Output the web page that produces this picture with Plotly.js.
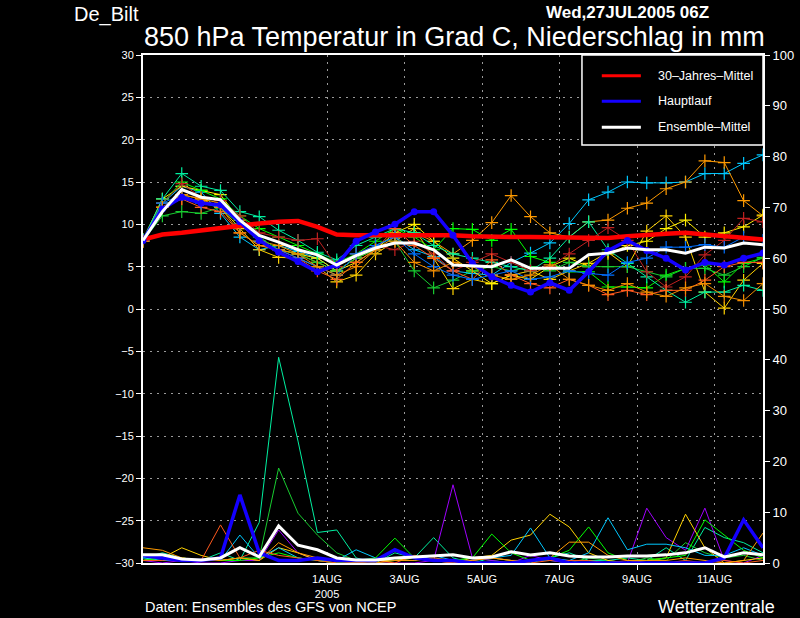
<!DOCTYPE html>
<html>
<head>
<meta charset="utf-8">
<script src="https://cdn.plot.ly/plotly-3.0.1.min.js"></script>
<style>
html, body { margin:0; padding:0; background:#000; }
#chart { width:800px; height:618px; }
</style>
</head>
<body>
<div id="chart"></div>
<script>
// 12-hourly steps from 27JUL2005 06Z
var startTime = Date.UTC(2005, 6, 27, 6);
var nSteps = 33;
var times = [];
for (var i = 0; i < nSteps; i++) {
    times.push(new Date(startTime + i * 43200000).toISOString().slice(0, 19).replace('T', ' '));
}

var tickDates = ['2005-08-01', '2005-08-03', '2005-08-05', '2005-08-07', '2005-08-09', '2005-08-11'];
var tickLabels = ['1AUG<br>2005', '3AUG', '5AUG', '7AUG', '9AUG', '11AUG'];

// 850 hPa temperature (deg C)
var tClim  = [8.2,8.8,9.0,9.3,9.6,9.9,10.1,10.3,10.4,9.7,8.8,8.7,8.7,8.7,8.8,8.8,8.7,8.6,8.5,8.5,8.5,8.5,8.5,8.4,8.4,8.6,8.8,8.9,9.0,8.8,8.6,8.4,8.2];
var tMain  = [8.1,11.8,13.2,12.5,12.3,10.3,8.1,6.7,5.6,4.4,5.2,8.0,9.1,10.0,11.5,11.5,8.7,5.4,3.8,2.8,2.0,3.1,2.2,4.4,6.9,8.1,6.9,6.0,4.6,5.5,5.2,6.0,6.6];
var tMean  = [8.1,11.5,14.1,13.2,12.9,10.5,8.7,7.9,7.0,6.4,5.2,6.3,7.2,7.8,7.8,7.0,5.2,5.1,5.0,5.8,4.8,4.8,4.8,6.4,6.6,7.2,7.0,7.0,6.6,7.3,7.2,7.8,7.6];

var tCyan   = [8.0,12.5,14.5,13.8,11.3,8.5,7.0,7.5,6.8,6.0,4.5,6.0,7.5,8.5,7.0,6.2,4.5,4.2,4.0,5.5,6.6,7.8,10.1,12.9,13.8,15.0,14.9,14.9,15.0,16.0,16.0,17.2,18.2];
var tOrange = [8.1,12.0,13.5,13.0,12.5,10.0,8.0,7.5,6.5,5.5,4.5,6.0,7.0,8.5,9.0,8.0,6.5,8.1,10.2,13.4,10.9,9.0,8.5,10.3,10.5,11.9,12.5,14.2,15.0,17.5,17.3,12.8,11.0];
var tYellow = [8.0,12.0,13.0,12.8,12.0,9.5,7.0,6.1,6.0,5.0,3.2,4.0,6.5,8.0,9.5,6.0,2.4,3.5,3.0,4.0,4.5,3.5,4.5,5.4,6.7,5.0,9.2,11.0,8.5,2.0,0.1,3.4,5.4];
var tGold   = [8.2,13.0,14.5,14.0,13.5,10.5,8.0,7.0,6.5,6.0,4.5,5.5,7.0,9.0,10.0,8.0,6.0,4.5,3.0,4.0,3.5,5.0,6.0,5.0,6.5,7.5,8.0,9.5,10.5,8.5,9.0,9.7,11.1];
var tGreen  = [8.0,12.5,15.0,14.0,13.0,11.0,9.5,8.5,7.5,6.5,5.5,6.5,8.0,9.5,8.5,7.0,9.5,9.4,8.1,9.4,6.2,5.5,4.4,4.4,2.6,2.6,2.5,4.0,4.8,5.2,3.2,5.4,6.0];
var tDkGreen= [8.0,11.0,11.5,11.3,12.0,10.0,8.5,7.0,6.5,5.5,4.5,6.0,7.0,8.0,4.5,2.5,3.4,4.5,5.0,4.5,5.0,4.5,5.5,5.0,5.0,5.0,4.4,3.8,4.8,4.8,4.0,5.0,6.1];
var tAqua   = [8.2,13.0,16.0,14.5,14.0,11.5,10.9,9.3,8.1,6.7,5.8,7.5,8.5,9.5,9.0,7.5,6.5,6.0,5.5,5.0,4.5,6.0,8.5,10.3,7.0,5.4,3.8,2.2,0.8,2.0,2.0,2.8,2.2];
var tDkRed  = [8.0,12.5,14.8,13.2,12.8,11.0,9.0,8.5,8.1,8.3,5.0,6.5,7.5,7.0,8.0,6.5,4.5,5.5,6.5,5.5,4.5,5.0,6.5,8.1,9.6,8.1,4.4,2.6,3.8,6.4,8.1,10.7,10.3];
var tOrRed  = [8.0,12.0,13.0,12.0,11.5,9.0,7.5,7.0,6.0,4.5,3.5,5.5,7.0,9.5,7.5,6.0,4.5,3.5,5.8,4.0,3.0,2.5,3.5,2.8,1.7,2.2,1.7,2.2,2.2,3.4,5.0,5.5,5.5];
var tBlue   = [8.1,12.5,13.5,12.5,12.0,10.0,8.0,7.0,6.0,5.0,4.0,6.5,7.5,8.5,6.5,5.0,4.0,3.5,4.0,4.5,3.5,3.8,4.5,4.2,4.0,5.5,6.0,7.3,7.3,7.6,7.3,8.5,8.1];
var tOrange2= [8.0,12.0,13.5,13.0,12.0,9.0,7.5,7.0,6.5,5.0,4.0,5.0,7.0,8.0,5.5,4.5,5.5,5.0,4.0,3.5,4.0,5.2,3.5,2.8,2.2,3.0,2.0,1.5,2.5,3.0,1.5,1.0,3.0];

// precipitation (mm, right axis)
var pMain   = [1.5,1.0,0.5,0.5,1.0,13.4,2.0,0.5,0.5,1.0,0.5,0.5,0.5,2.6,1.0,0.5,0.5,0,0,0,0.5,1.0,0,0,0,0,0,0,0,0,1.0,8.5,3.0];
var pMean   = [1.6,1.6,0.8,0.6,1.0,3.0,1.2,7.3,3.5,2.6,1.0,0.6,0.6,1.0,1.2,1.4,1.6,1.0,1.2,2.2,1.6,2.0,1.4,1.2,1.2,1.4,1.4,1.6,2.0,3.0,1.2,2.0,1.6];
var pAqua   = [1.0,2.0,1.0,0.5,2.0,0.5,8.0,40.5,24.0,6.0,6.5,1.0,0,2.0,1.0,5.0,1.0,0,1.0,0.5,0,1.0,2.0,0.5,0.5,1.0,0.5,3.0,0.5,7.0,5.0,4.0,2.0];
var pDkGreen= [0.5,1.5,1.0,0.5,0.5,1.0,1.0,18.7,9.8,5.5,2.0,0.5,0,0.5,1.0,0.5,0.5,1.0,0.5,0,0.5,0.5,0,1.0,0.5,0,1.0,0.5,4.0,2.0,1.0,1.5,0.5];
var pPurple = [0.5,0,0.5,0,0,0.5,0.5,6.5,2.0,0.5,0,0,0,0,0,0.5,15.4,1.0,0.5,0,1.5,0.5,0,0,0,0,10.8,5.0,2.5,10.8,0.5,0,1.5];
var pYellow = [0.5,1.0,3.0,1.5,0.5,1.0,0.5,3.0,2.0,0.5,0,0,0.5,0.5,1.0,0.5,0,1.0,1.5,4.5,5.5,9.6,7.1,2.0,0.5,0,0.5,1.0,9.6,3.0,0,0.5,1.0];
var pCyan   = [1.0,0.5,0.5,0.5,0.5,5.5,1.0,3.0,1.0,0.5,0.5,2.6,1.0,0.5,0.5,1.5,0.5,0.5,1.0,1.5,6.9,1.0,0.5,2.0,8.9,2.6,3.7,3.7,3.0,1.5,1.5,3.0,1.5];
var pGreen  = [0.5,1.0,1.0,0.5,0.5,0.5,1.0,2.0,1.0,0.5,0,0.5,1.0,4.9,1.0,0.5,0.5,1.0,5.7,2.0,0.5,1.0,2.5,7.1,2.0,0.5,0.5,1.0,1.5,8.5,5.5,2.5,1.0];
var pOrRed  = [0.5,0.5,1.0,0.5,7.5,1.0,2.5,1.5,1.0,0.5,0,0,0.5,0,1.5,0.5,0,0.5,1.0,0.5,0,0.5,0.5,0.5,0,0.5,0,0,0.5,0,0.5,0,0.5];
var pOrange = [3.0,2.5,1.0,0.5,0.5,1.0,0.5,4.0,2.0,1.0,0.5,0,0,0.5,0.5,1.0,0.5,0.5,1.0,0.5,0.5,1.0,4.1,4.1,1.5,0.5,0.5,0.5,1.0,0.5,0,0.5,5.9];

var members = [
    {t: tCyan,    c: '#00c8ff'},
    {t: tOrange,  c: '#ff9a00'},
    {t: tYellow,  c: '#ffd200'},
    {t: tGold,    c: '#ffee00'},
    {t: tGreen,   c: '#00ff00'},
    {t: tDkGreen, c: '#18cc30'},
    {t: tAqua,    c: '#00f0a0'},
    {t: tDkRed,   c: '#c02020'},
    {t: tOrRed,   c: '#ff5a1e'},
    {t: tBlue,    c: '#0070ff'},
    {t: tOrange2, c: '#f08c00'}
];
var precMembers = [
    {p: pAqua,    c: '#00f0a0'},
    {p: pDkGreen, c: '#18cc30'},
    {p: pPurple,  c: '#a000ff'},
    {p: pYellow,  c: '#ffd200'},
    {p: pCyan,    c: '#00c8ff'},
    {p: pGreen,   c: '#00ff00'},
    {p: pOrRed,   c: '#ff5a1e'},
    {p: pOrange,  c: '#ff9a00'}
];

var traces = [];
members.forEach(function(m){
    traces.push({
        x: times, y: m.t, type: 'scatter', mode: 'lines+markers',
        line: {color: m.c, width: 1},
        marker: {symbol: 'cross-thin', size: 9, line: {color: m.c, width: 1.2}},
        showlegend: false, hoverinfo: 'skip'
    });
});
precMembers.forEach(function(m){
    traces.push({
        x: times, y: m.p, type: 'scatter', mode: 'lines', yaxis: 'y2',
        line: {color: m.c, width: 1},
        showlegend: false, hoverinfo: 'skip'
    });
});
traces.push({x: times, y: pMain, type: 'scatter', mode: 'lines', yaxis: 'y2',
    line: {color: '#1400ff', width: 3.5}, showlegend: false});
traces.push({x: times, y: pMean, type: 'scatter', mode: 'lines', yaxis: 'y2',
    line: {color: '#ffffff', width: 3}, showlegend: false});
traces.push({x: times, y: tClim, type: 'scatter', mode: 'lines',
    line: {color: '#ff0000', width: 4.5}, showlegend: false});
traces.push({x: times, y: tMain, type: 'scatter', mode: 'lines+markers',
    line: {color: '#1400ff', width: 3.5},
    marker: {symbol: 'circle', size: 7, color: '#1400ff'}, showlegend: false});
traces.push({x: times, y: tMean, type: 'scatter', mode: 'lines',
    line: {color: '#ffffff', width: 3}, showlegend: false});

var fontFam = 'Liberation Sans, DejaVu Sans, sans-serif';

var layout = {
    width: 800, height: 618,
    paper_bgcolor: '#000', plot_bgcolor: '#000',
    margin: {l: 143, r: 37, t: 55, b: 55},
    font: {family: fontFam, color: '#fff', size: 11},
    title: {
        text: '850 hPa Temperatur in Grad C, Niederschlag in mm',
        font: {family: fontFam, size: 27, color: '#fff'},
        x: 0.18, xanchor: 'left', y: 0.941, yanchor: 'middle'
    },
    showlegend: false,
    xaxis: {
        type: 'date',
        range: [times[0], times[nSteps - 1]],
        tickvals: tickDates, ticktext: tickLabels,
        ticks: 'outside', ticklen: 5, tickcolor: '#fff',
        showline: true, linecolor: '#fff', linewidth: 2, mirror: true,
        showgrid: true, gridcolor: '#9a9a9a', griddash: '2px,5px', gridwidth: 1,
        tickfont: {size: 11, color: '#fff'},
        zeroline: false
    },
    yaxis: {
        range: [-30, 30], dtick: 5,
        ticks: 'outside', ticklen: 5, tickcolor: '#fff',
        showline: true, linecolor: '#fff', linewidth: 2,
        showgrid: true, gridcolor: '#9a9a9a', griddash: '2px,5px', gridwidth: 1,
        zeroline: false,
        tickfont: {size: 11, color: '#fff'}
    },
    yaxis2: {
        range: [0, 100], dtick: 10, overlaying: 'y', side: 'right',
        ticks: 'outside', ticklen: 5, tickcolor: '#fff',
        showline: true, linecolor: '#fff', linewidth: 2,
        showgrid: false, zeroline: false,
        tickfont: {size: 13, color: '#fff'}
    },
    shapes: [
        {type: 'rect', xref: 'paper', yref: 'paper', x0: 0.708, x1: 1, y0: 0.823, y1: 1,
         line: {color: '#fff', width: 1.5}, fillcolor: '#000', layer: 'above'},
        {type: 'line', xref: 'paper', yref: 'paper', x0: 0.74, x1: 0.803, y0: 0.959, y1: 0.959,
         line: {color: '#ff0000', width: 3}},
        {type: 'line', xref: 'paper', yref: 'paper', x0: 0.74, x1: 0.803, y0: 0.909, y1: 0.909,
         line: {color: '#1400ff', width: 3}},
        {type: 'line', xref: 'paper', yref: 'paper', x0: 0.74, x1: 0.803, y0: 0.858, y1: 0.858,
         line: {color: '#ffffff', width: 3}}
    ],
    annotations: [
        {text: '30\u2013Jahres\u2013Mittel', xref: 'paper', yref: 'paper', x: 0.827, y: 0.959,
         xanchor: 'left', yanchor: 'middle', showarrow: false, font: {size: 12.5, color: '#fff'}},
        {text: 'Hauptlauf', xref: 'paper', yref: 'paper', x: 0.827, y: 0.909,
         xanchor: 'left', yanchor: 'middle', showarrow: false, font: {size: 12.5, color: '#fff'}},
        {text: 'Ensemble\u2013Mittel', xref: 'paper', yref: 'paper', x: 0.827, y: 0.858,
         xanchor: 'left', yanchor: 'middle', showarrow: false, font: {size: 12.5, color: '#fff'}},
        {text: 'De_Bilt', xref: 'paper', yref: 'paper', x: -0.115, y: 1.106,
         xanchor: 'left', yanchor: 'top', showarrow: false,
         font: {size: 20, color: '#fff', family: fontFam}},
        {text: '<b>Wed,27JUL2005 06Z</b>', xref: 'paper', yref: 'paper', x: 0.646, y: 1.107,
         xanchor: 'left', yanchor: 'top', showarrow: false,
         font: {size: 17, color: '#fff', family: fontFam}},
        {text: 'Daten: Ensembles des GFS von NCEP', xref: 'paper', yref: 'paper', x: 0.0, y: -0.087,
         xanchor: 'left', yanchor: 'middle', showarrow: false,
         font: {size: 14.5, color: '#fff', family: fontFam}},
        {text: 'Wetterzentrale', xref: 'paper', yref: 'paper', x: 1.022, y: -0.087,
         xanchor: 'right', yanchor: 'middle', showarrow: false,
         font: {size: 18, color: '#fff', family: fontFam}}
    ]
};

Plotly.newPlot('chart', traces, layout, {staticPlot: true, displayModeBar: false});
</script>
</body>
</html>
